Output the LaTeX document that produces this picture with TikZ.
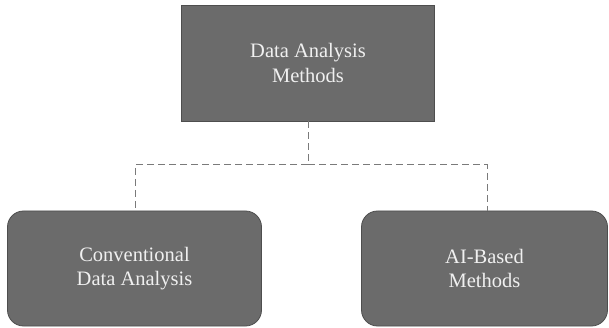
\documentclass[tikz,border=0pt]{standalone}
\usepackage{fontspec}
\setmainfont{Liberation Serif}
\definecolor{boxfill}{HTML}{6B6B6B}
\definecolor{boxedge}{HTML}{4E4E4E}
\definecolor{linkgray}{HTML}{7A7A7A}
\definecolor{labelgray}{HTML}{F0F0F0}
\begin{document}
\begin{tikzpicture}[x=1pt,y=-1pt,
  block/.style={draw=boxedge,line width=0.8pt,fill=boxfill,text=labelgray,
    align=center,inner sep=0pt,
    font=\fontsize{20.5}{24.5}\selectfont},
  rootbox/.style={block,minimum width=253pt,minimum height=116pt},
  leafbox/.style={block,rounded corners=16pt,minimum width=254pt,minimum height=115pt},
  link/.style={draw=linkgray,line width=1pt,dash pattern=on 7pt off 4pt}]
  \useasboundingbox (0,0) rectangle (609,328);
  % boxes
  \node[rootbox] (root) at (308,63) {Data Analysis\\Methods};
  \node[leafbox] (conv) at (134.5,268.5) {Conventional\\Data Analysis};
  \node[leafbox,minimum width=246pt] (ai) at (484.5,268.5) {AI-Based\\Methods};
  % branching connector
  \coordinate (hub) at (308,165);
  \coordinate (lcorner) at (135,165);
  \coordinate (rcorner) at (487,165);
  \draw[link] (root.south) -- (hub);
  \draw[link] (hub) -- (lcorner) -- (conv.north -| lcorner);
  \draw[link] (hub) -- (rcorner) -- (ai.north -| rcorner);
\end{tikzpicture}
\end{document}
